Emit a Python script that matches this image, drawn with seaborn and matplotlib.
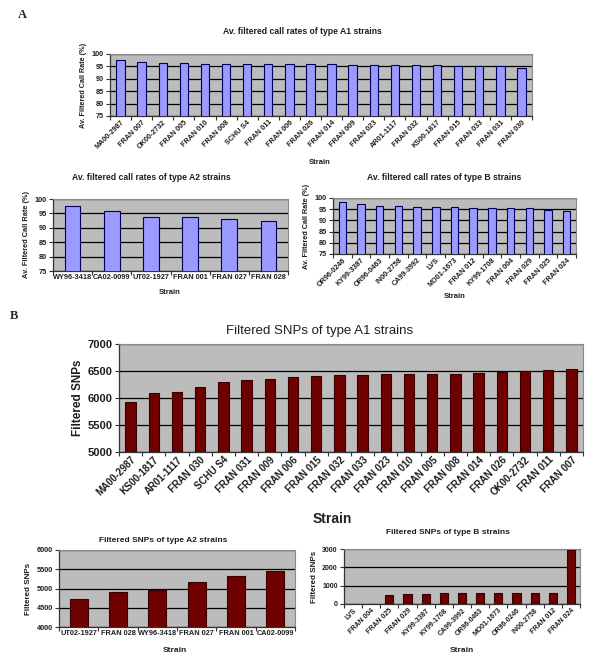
import seaborn as sns
import matplotlib.pyplot as plt
from matplotlib.ticker import MultipleLocator, FixedLocator

# A: average filtered call rates (%)
a1_strains = ['MA00-2987', 'FRAN 007', 'OK00-2732', 'FRAN 005', 'FRAN 010', 'FRAN 008', 'SCHU S4',
              'FRAN 011', 'FRAN 006', 'FRAN 026', 'FRAN 014', 'FRAN 009', 'FRAN 023', 'AR01-1117',
              'FRAN 032', 'KS00-1817', 'FRAN 015', 'FRAN 033', 'FRAN 031', 'FRAN 030']
a1_rates = [97.7, 96.6, 96.5, 96.3, 96.1, 96.1, 96.0, 95.9, 95.9, 95.9, 95.9, 95.7, 95.7, 95.6,
            95.6, 95.4, 95.2, 95.1, 95.0, 94.4]

a2_strains = ['WY96-3418', 'CA02-0099', 'UT02-1927', 'FRAN 001', 'FRAN 027', 'FRAN 028']
a2_rates = [97.4, 96.0, 93.9, 93.6, 93.0, 92.3]

b_strains = ['OR96-0246', 'KY99-3387', 'OR96-0463', 'IN00-2758', 'CA99-3992', 'LVS', 'MO01-1673',
             'FRAN 012', 'KY99-1708', 'FRAN 004', 'FRAN 029', 'FRAN 025', 'FRAN 024']
b_rates = [98.0, 97.5, 96.6, 96.5, 96.2, 96.1, 95.9, 95.7, 95.6, 95.5, 95.4, 94.6, 94.2]

# B: filtered SNPs
snp_a1_strains = ['MA00-2987', 'KS00-1817', 'AR01-1117', 'FRAN 030', 'SCHU S4', 'FRAN 031', 'FRAN 009',
                  'FRAN 006', 'FRAN 015', 'FRAN 032', 'FRAN 033', 'FRAN 023', 'FRAN 010', 'FRAN 005',
                  'FRAN 008', 'FRAN 014', 'FRAN 026', 'OK00-2732', 'FRAN 011', 'FRAN 007']
snp_a1 = [5920, 6090, 6110, 6210, 6290, 6330, 6350, 6390, 6400, 6420, 6420, 6450, 6450, 6450,
          6450, 6470, 6490, 6500, 6520, 6540]

snp_a2_strains = ['UT02-1927', 'FRAN 028', 'WY96-3418', 'FRAN 027', 'FRAN 001', 'CA02-0099']
snp_a2 = [4740, 4900, 4960, 5170, 5320, 5460]

snp_b_strains = ['LVS', 'FRAN 004', 'FRAN 025', 'FRAN 029', 'KY99-3387', 'KY99-1708', 'CA99-3992',
                 'OR96-0463', 'MO01-1673', 'OR96-0246', 'IN00-2758', 'FRAN 012', 'FRAN 024']
snp_b = [20, 20, 490, 540, 530, 580, 580, 590, 590, 590, 590, 620, 2920]

sns.set_theme(style='white')
plt.rcParams['font.family'] = ['Liberation Sans', 'DejaVu Sans']
TXT = '#1e1e1e'
GREY = '#bcbcbc'
BLUE = '#9a9aff'
RED = '#6e0000'

W, H = 600, 670
fig = plt.figure(figsize=(6, 6.7), dpi=100)
fig.patch.set_facecolor('white')


def box(x0, y0, x1, y1):
    # pixel box (top-left origin) -> figure axes
    return fig.add_axes([x0 / W, (H - y1) / H, (x1 - x0) / W, (y1 - y0) / H])


def panel(ax, names, vals, color, edge, ylim, step, tick_fs, rot, ylabel, ylab_fs, width=0.4):
    sns.barplot(x=names, y=vals, color=color, edgecolor=edge, linewidth=0.8,
                width=width, saturation=1, ax=ax, zorder=3)
    ax.set_facecolor(GREY)
    ax.set_ylim(*ylim)
    ax.set_xlim(-0.5, len(names) - 0.5)
    ax.yaxis.set_major_locator(MultipleLocator(step))
    ax.grid(axis='y', color='black', linewidth=0.9, zorder=1)
    ax.set_axisbelow(True)
    for s in ['top', 'right']:
        ax.spines[s].set_color('#8a8a8a')
        ax.spines[s].set_linewidth(0.8)
    for s in ['left', 'bottom']:
        ax.spines[s].set_color('#333333')
        ax.spines[s].set_linewidth(0.9)
    ax.xaxis.set_minor_locator(FixedLocator([i - 0.5 for i in range(len(names) + 1)]))
    ax.tick_params(axis='x', which='major', length=0, pad=2, labelsize=tick_fs, colors=TXT)
    ax.tick_params(axis='x', which='minor', length=3, width=0.8, color='#333333', bottom=True)
    ax.tick_params(axis='y', length=3, width=0.8, color='#333333', left=True, pad=1.5,
                   labelsize=tick_fs, labelcolor=TXT)
    if rot:
        plt.setp(ax.get_xticklabels(), rotation=45, ha='right', rotation_mode='anchor')
    for lab in ax.get_xticklabels() + ax.get_yticklabels():
        lab.set_fontweight('bold')
    ax.set_ylabel(ylabel, fontsize=ylab_fs, fontweight='bold', color=TXT, labelpad=3)
    ax.set_xlabel('')


# Panel A
ax = box(110, 54, 532, 116)
panel(ax, a1_strains, a1_rates, BLUE, '#00005a', (75, 100), 5, 5.2, True,
      'Av. Filtered Call Rate (%)', 5.2)
fig.text(302 / W, 1 - 31 / H, 'Av. filtered call rates of type A1 strains', ha='center', va='center',
         fontsize=6.2, fontweight='bold', color=TXT)
fig.text(320 / W, 1 - 163 / H, 'Strain', ha='center', va='center', fontsize=5.5, fontweight='bold', color=TXT)

ax = box(53, 199, 288, 271)
panel(ax, a2_strains, a2_rates, BLUE, '#00005a', (75, 100), 5, 5.3, False,
      'Av. Filtered Call Rate (%)', 5.3)
fig.text(151 / W, 1 - 177 / H, 'Av. filtered call rates of type A2 strains', ha='center', va='center',
         fontsize=6.2, fontweight='bold', color=TXT)
fig.text(170 / W, 1 - 293 / H, 'Strain', ha='center', va='center', fontsize=5.5, fontweight='bold', color=TXT)

ax = box(333, 198, 576, 254)
panel(ax, b_strains, b_rates, BLUE, '#00005a', (75, 100), 5, 5.2, True,
      'Av. Filtered Call Rate (%)', 5.2)
fig.text(444 / W, 1 - 177 / H, 'Av. filtered call rates of type B strains', ha='center', va='center',
         fontsize=6.2, fontweight='bold', color=TXT)
fig.text(455 / W, 1 - 297 / H, 'Strain', ha='center', va='center', fontsize=5.5, fontweight='bold', color=TXT)

# Panel B
ax = box(119, 344, 583, 452)
panel(ax, snp_a1_strains, snp_a1, RED, '#3a0000', (5000, 7000), 500, 7.0, True,
      'Filtered SNPs', 8.5, width=0.45)
ax.tick_params(axis='y', labelsize=8)
fig.text(320 / W, 1 - 331 / H, 'Filtered SNPs of type A1 strains', ha='center', va='center',
         fontsize=9.5, color=TXT)
fig.text(313 / W, 1 - 519 / H, 'Strain', ha='left', va='center', fontsize=10, fontweight='bold', color=TXT)

ax = box(59, 550, 295, 627)
panel(ax, snp_a2_strains, snp_a2, RED, '#3a0000', (4000, 6000), 500, 5.3, False,
      'Filtered SNPs', 5.8, width=0.45)
fig.text(163 / W, 1 - 541 / H, 'Filtered SNPs of type A2 strains', ha='center', va='center',
         fontsize=6, fontweight='bold', color=TXT)
fig.text(175 / W, 1 - 651 / H, 'Strain', ha='center', va='center', fontsize=6, fontweight='bold', color=TXT)

ax = box(344, 549, 580, 604)
panel(ax, snp_b_strains, snp_b, RED, '#3a0000', (0, 3000), 1000, 5.0, True,
      'Filtered SNPs', 5.8, width=0.45)
fig.text(448 / W, 1 - 533 / H, 'Filtered SNPs of type B strains', ha='center', va='center',
         fontsize=6, fontweight='bold', color=TXT)
fig.text(462 / W, 1 - 650 / H, 'Strain', ha='center', va='center', fontsize=6, fontweight='bold', color=TXT)

# panel letters
fig.text(18 / W, 1 - 15 / H, 'A', ha='left', va='center', fontsize=9, fontweight='bold',
         family=['Liberation Serif', 'DejaVu Serif'])
fig.text(10 / W, 1 - 316 / H, 'B', ha='left', va='center', fontsize=9, fontweight='bold',
         family=['Liberation Serif', 'DejaVu Serif'])

fig.savefig('out.png', dpi=100, facecolor='white')
